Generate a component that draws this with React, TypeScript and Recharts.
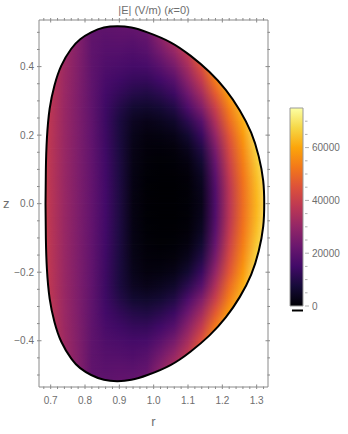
import React from 'react';
import { ComposedChart, Area, Line, XAxis, YAxis, ReferenceArea, ReferenceLine } from 'recharts';

// grid of |E| samples (rows: z, columns: r)
const R_COLS = [0.66, 0.7, 0.74, 0.78, 0.82, 0.86, 0.9, 0.94, 0.98, 1.02, 1.06, 1.1, 1.14, 1.18, 1.22, 1.26, 1.3, 1.34];
const Z_ROWS = [0.52, 0.48, 0.44, 0.4, 0.36, 0.32, 0.28, 0.24, 0.2, 0.16, 0.12, 0.08, 0.04, 0,
  -0.04, -0.08, -0.12, -0.16, -0.2, -0.24, -0.28, -0.32, -0.36, -0.4, -0.44, -0.48, -0.52];
const E_GRID = [
  [48000, 39000, 33000, 27600, 20800, 20500, 21000, 21500, 23500, 32000, 40000, 48000, 61000, 74000, 84000, 87000, 99000, 110000],
  [47700, 38700, 32500, 27200, 20600, 19500, 19800, 19500, 21000, 28000, 35000, 43000, 56000, 69000, 79000, 83000, 95000, 106000],
  [47300, 38300, 32100, 26800, 20500, 18500, 18200, 17500, 18800, 24000, 30000, 38500, 51000, 64000, 74000, 79000, 91000, 102000],
  [47000, 38000, 31800, 26500, 20500, 17500, 16500, 15500, 16000, 19500, 24500, 33500, 45000, 59000, 69000, 75000, 87000, 98000],
  [46700, 37700, 31500, 26300, 20500, 16400, 14500, 13000, 12800, 15000, 19000, 28500, 39000, 53000, 64000, 71000, 83000, 94000],
  [46500, 37500, 31300, 26100, 20500, 15200, 12500, 10000, 9200, 11000, 14000, 23000, 33000, 47000, 59000, 67500, 79500, 90000],
  [46300, 37300, 31100, 26000, 20500, 14300, 10000, 6500, 5800, 7000, 9500, 17000, 26500, 40500, 54000, 64000, 76000, 86000],
  [46200, 37200, 31000, 26000, 20600, 14000, 8600, 4300, 3000, 3800, 5500, 11000, 19000, 35000, 50000, 61000, 73000, 82500],
  [46100, 37100, 31000, 26000, 20700, 14100, 8500, 3200, 1600, 1800, 2800, 6500, 13500, 30000, 46000, 58000, 70000, 79500],
  [46000, 37000, 31000, 26000, 20800, 14400, 8600, 2700, 1000, 800, 1200, 3500, 9500, 25500, 43000, 55500, 67500, 77000],
  [46000, 37000, 31000, 26000, 20900, 14700, 8800, 2400, 650, 350, 500, 1700, 6500, 22000, 40500, 53500, 65500, 75000],
  [46000, 37000, 31000, 26000, 21000, 14900, 8900, 2200, 450, 150, 200, 900, 4500, 19500, 38500, 52000, 64000, 73500],
  [46000, 37000, 31000, 26000, 21000, 15000, 9000, 2100, 350, 50, 50, 600, 3500, 18000, 37000, 51000, 63000, 72500],
  [46000, 37000, 31000, 26000, 21000, 15000, 9000, 2000, 300, 0, 0, 500, 3000, 17500, 36500, 50500, 62500, 72000],
  [46000, 37000, 31000, 26000, 21000, 15000, 9000, 2100, 350, 50, 50, 600, 3500, 18000, 37000, 51000, 63000, 72500],
  [46000, 37000, 31000, 26000, 21000, 14900, 8900, 2200, 450, 150, 200, 900, 4500, 19500, 38500, 52000, 64000, 73500],
  [46000, 37000, 31000, 26000, 20900, 14700, 8800, 2400, 650, 350, 500, 1700, 6500, 22000, 40500, 53500, 65500, 75000],
  [46000, 37000, 31000, 26000, 20800, 14400, 8600, 2700, 1000, 800, 1200, 3500, 9500, 25500, 43000, 55500, 67500, 77000],
  [46100, 37100, 31000, 26000, 20700, 14100, 8500, 3200, 1600, 1800, 2800, 6500, 13500, 30000, 46000, 58000, 70000, 79500],
  [46200, 37200, 31000, 26000, 20600, 14000, 8600, 4300, 3000, 3800, 5500, 11000, 19000, 35000, 50000, 61000, 73000, 82500],
  [46300, 37300, 31100, 26000, 20500, 14300, 10000, 6500, 5800, 7000, 9500, 17000, 26500, 40500, 54000, 64000, 76000, 86000],
  [46500, 37500, 31300, 26100, 20500, 15200, 12500, 10000, 9200, 11000, 14000, 23000, 33000, 47000, 59000, 67500, 79500, 90000],
  [46700, 37700, 31500, 26300, 20500, 16400, 14500, 13000, 12800, 15000, 19000, 28500, 39000, 53000, 64000, 71000, 83000, 94000],
  [47000, 38000, 31800, 26500, 20500, 17500, 16500, 15500, 16000, 19500, 24500, 33500, 45000, 59000, 69000, 75000, 87000, 98000],
  [47300, 38300, 32100, 26800, 20500, 18500, 18200, 17500, 18800, 24000, 30000, 38500, 51000, 64000, 74000, 79000, 91000, 102000],
  [47700, 38700, 32500, 27200, 20600, 19500, 19800, 19500, 21000, 28000, 35000, 43000, 56000, 69000, 79000, 83000, 95000, 106000],
  [48000, 39000, 33000, 27600, 20800, 20500, 21000, 21500, 23500, 32000, 40000, 48000, 61000, 74000, 84000, 87000, 99000, 110000],
];

// plasma boundary, upper half from the outer tip to the inner tip
const EDGE_R_UPPER = [1.322, 1.319, 1.306, 1.284, 1.251, 1.21, 1.162, 1.107, 1.049, 0.982, 0.935, 0.895, 0.855, 0.818, 0.786, 0.76, 0.731, 0.711, 0.697, 0.689, 0.686, 0.685];
const EDGE_Z_UPPER = [0, 0.067, 0.138, 0.207, 0.272, 0.332, 0.385, 0.432, 0.471, 0.5, 0.514, 0.518, 0.514, 0.5, 0.48, 0.452, 0.403, 0.345, 0.277, 0.19, 0.1, 0];
// lower half from the inner tip back to the outer tip
const EDGE_R_LOWER = [0.686, 0.689, 0.697, 0.711, 0.731, 0.76, 0.786, 0.818, 0.855, 0.895, 0.935, 0.982, 1.049, 1.107, 1.162, 1.21, 1.251, 1.284, 1.306, 1.319, 1.322];
const EDGE_Z_LOWER = [-0.1, -0.19, -0.277, -0.345, -0.403, -0.452, -0.48, -0.5, -0.514, -0.518, -0.514, -0.5, -0.471, -0.432, -0.385, -0.332, -0.272, -0.207, -0.138, -0.067, 0];

// axis ticks
const R_TICKS = [0.68, 0.7, 0.72, 0.74, 0.76, 0.78, 0.8, 0.82, 0.84, 0.86, 0.88, 0.9, 0.92, 0.94, 0.96, 0.98, 1.0,
  1.02, 1.04, 1.06, 1.08, 1.1, 1.12, 1.14, 1.16, 1.18, 1.2, 1.22, 1.24, 1.26, 1.28, 1.3, 1.32];
const R_MAJOR = [0.7, 0.8, 0.9, 1.0, 1.1, 1.2, 1.3];
const Z_TICKS = [-0.5, -0.45, -0.4, -0.35, -0.3, -0.25, -0.2, -0.15, -0.1, -0.05, 0, 0.05, 0.1, 0.15, 0.2, 0.25, 0.3, 0.35, 0.4, 0.45, 0.5];
const Z_MAJOR = [-0.4, -0.2, 0, 0.2, 0.4];
const CB_TICKS = [0, 5000, 10000, 15000, 20000, 25000, 30000, 35000, 40000, 45000, 50000, 55000, 60000, 65000, 70000];
const CB_MAJOR = [0, 20000, 40000, 60000];

// colour scale
const E_MAX = 75000;
const CMAP_POS = [0, 0.1, 0.2, 0.3, 0.4, 0.5, 0.6, 0.7, 0.8, 0.9, 1];
const CMAP_COLORS = ['#000004', '#160b39', '#420a68', '#6a176e', '#932667', '#bc3754', '#dd513a', '#f37819', '#fca50a', '#f6d746', '#fcffa4'];

const R_DOMAIN: [number, number] = [0.666, 1.333];
const Z_DOMAIN: [number, number] = [-0.535, 0.536];
const ROW_HALF = 0.04;
const FRAME = '#8a8a8a';
const TXT = '#6e6e6e';
const FONT = '"Liberation Sans", Arial, sans-serif';

const hex = (c: string) => [1, 3, 5].map(i => parseInt(c.slice(i, i + 2), 16));

function heatColor(v: number) {
  const t = Math.max(0, Math.min(1, v / E_MAX));
  let k = 0;
  while (k < CMAP_POS.length - 2 && t > CMAP_POS[k + 1]) k++;
  const f = (t - CMAP_POS[k]) / (CMAP_POS[k + 1] - CMAP_POS[k]);
  const a = hex(CMAP_COLORS[k]);
  const b = hex(CMAP_COLORS[k + 1]);
  const m = a.map((x, i) => Math.round(x + (b[i] - x) * f));
  return `rgb(${m[0]},${m[1]},${m[2]})`;
}

const isIn = (v: number, list: number[]) => list.some(m => Math.abs(m - v) < 1e-6);
const fmtZ = (v: number) => (v < 0 ? '\u2212' : '') + Math.abs(v).toFixed(1);

const BottomTick = ({ x, y, payload }: any) => {
  const major = isIn(payload.value, R_MAJOR);
  return (
    <g>
      <line x1={x} x2={x} y1={y} y2={y - (major ? 4.5 : 2.5)} stroke={FRAME} />
      {major && (
        <text x={x} y={y + 15} textAnchor="middle" fill={TXT} fontSize={10} fontFamily={FONT}>
          {payload.value.toFixed(1)}
        </text>
      )}
    </g>
  );
};

const TopTick = ({ x, y, payload }: any) => {
  const major = isIn(payload.value, R_MAJOR);
  return <line x1={x} x2={x} y1={y} y2={y + (major ? 4.5 : 2.5)} stroke={FRAME} />;
};

const LeftTick = ({ x, y, payload }: any) => {
  const major = isIn(payload.value, Z_MAJOR);
  return (
    <g>
      <line x1={x} x2={x + (major ? 4.5 : 2.5)} y1={y} y2={y} stroke={FRAME} />
      {major && (
        <text x={x - 3} y={y + 3.5} textAnchor="end" fill={TXT} fontSize={10} fontFamily={FONT}>
          {fmtZ(payload.value)}
        </text>
      )}
    </g>
  );
};

const RightTick = ({ x, y, payload }: any) => {
  const major = isIn(payload.value, Z_MAJOR);
  return <line x1={x} x2={x - (major ? 4.5 : 2.5)} y1={y} y2={y} stroke={FRAME} />;
};

const BarTick = ({ x, y, payload }: any) => {
  const major = isIn(payload.value, CB_MAJOR);
  return (
    <g>
      <line x1={x} x2={x + (major ? 4 : 2.5)} y1={y} y2={y} stroke="#b0b0b0" />
      {major && (
        <text x={x + 7} y={y + 3.5} textAnchor="start" fill={TXT} fontSize={10} fontFamily={FONT}>
          {payload.value}
        </text>
      )}
    </g>
  );
};

export default function App() {
  const last = R_COLS.length - 1;
  const span = R_COLS[last] - R_COLS[0];

  // each row band reaches to its neighbours and fades in from the top, so rows blend smoothly
  const rows = Z_ROWS.map((z, i) => ({
    id: `heat${i}`,
    data: [
      { r: R_COLS[0], band: [z - ROW_HALF, z + ROW_HALF] },
      { r: R_COLS[last], band: [z - ROW_HALF, z + ROW_HALF] },
    ],
    stops: R_COLS.map((r, j) => ({ offset: (r - R_COLS[0]) / span, color: heatColor(E_GRID[i][j]) })),
  }));

  const upper = EDGE_R_UPPER.map((r, i) => ({ r, z: EDGE_Z_UPPER[i] }));
  const lower = EDGE_R_LOWER.map((r, i) => ({ r, z: EDGE_Z_LOWER[i] }));
  // outline starts at the flat inner tip so the spline closes without a visible kink
  const outline = [upper[upper.length - 1], ...lower, ...upper.slice(1)];
  const maskTop = [{ r: 0.66, z: -0.02 }, ...[...upper].reverse(), { r: 1.34, z: -0.02 }];
  const maskBottom = [{ r: 0.66, z: 0.02 }, { r: 0.685, z: 0 }, ...lower, { r: 1.34, z: 0.02 }];

  const barData = [
    { x: 0, v: [0, E_MAX] },
    { x: 1, v: [0, E_MAX] },
  ];

  return (
    <div style={{ position: 'absolute', left: 0, top: 0, width: 348, height: 434, background: '#fff', fontFamily: FONT }}>
      <div style={{ position: 'absolute', left: 39, top: 3, width: 230, textAlign: 'center', fontSize: 11, color: TXT, lineHeight: '14px' }}>
        |E| (V/m) (<i>κ</i>=0)
      </div>

      <ComposedChart width={348} height={434} margin={{ top: 19, right: 79, bottom: 0, left: 0 }} style={{ position: 'absolute', left: 0, top: 0 }}>
        <defs>
          <linearGradient id="rowFade" x1="0" y1="0" x2="0" y2="1">
            <stop offset="0" stopColor="#fff" stopOpacity={0} />
            <stop offset="0.5" stopColor="#fff" stopOpacity={1} />
            <stop offset="1" stopColor="#fff" stopOpacity={1} />
          </linearGradient>
          <mask id="rowMask" maskContentUnits="objectBoundingBox" style={{ maskType: 'alpha' }}>
            <rect x="0" y="0" width="1" height="1" fill="url(#rowFade)" />
          </mask>
          {rows.map(row => (
            <linearGradient key={row.id} id={row.id} x1="0" y1="0" x2="1" y2="0">
              {row.stops.map((s, j) => (
                <stop key={j} offset={s.offset} stopColor={s.color} />
              ))}
            </linearGradient>
          ))}
        </defs>

        <XAxis
          dataKey="r"
          type="number"
          domain={R_DOMAIN}
          allowDataOverflow
          ticks={R_TICKS}
          interval={0}
          tick={<BottomTick />}
          tickLine={false}
          tickSize={0}
          axisLine={{ stroke: FRAME }}
          height={47}
          label={{ value: 'r', position: 'insideBottom', offset: 8, fill: TXT, fontSize: 13, fontFamily: FONT }}
        />
        <XAxis
          xAxisId="top"
          orientation="top"
          dataKey="r"
          type="number"
          domain={R_DOMAIN}
          allowDataOverflow
          ticks={R_TICKS}
          interval={0}
          tick={<TopTick />}
          tickLine={false}
          tickSize={0}
          axisLine={{ stroke: FRAME }}
          height={1}
        />
        <YAxis
          type="number"
          domain={Z_DOMAIN}
          allowDataOverflow
          ticks={Z_TICKS}
          interval={0}
          tick={<LeftTick />}
          tickLine={false}
          tickSize={0}
          axisLine={{ stroke: FRAME }}
          width={39}
          label={{ value: 'z', position: 'insideLeft', offset: 3, fill: TXT, fontSize: 13, fontFamily: FONT }}
        />
        <YAxis
          yAxisId="right"
          orientation="right"
          type="number"
          domain={Z_DOMAIN}
          allowDataOverflow
          ticks={Z_TICKS}
          interval={0}
          tick={<RightTick />}
          tickLine={false}
          tickSize={0}
          axisLine={{ stroke: FRAME }}
          width={1}
        />

        {rows.map(row => (
          <Area
            key={row.id}
            data={row.data}
            dataKey="band"
            type="linear"
            stroke="none"
            fill={`url(#${row.id})`}
            fillOpacity={1}
            mask="url(#rowMask)"
            isAnimationActive={false}
          />
        ))}

        <Area data={maskTop} dataKey="z" type="linear" baseValue={Z_DOMAIN[1]} stroke="none" fill="#fff" fillOpacity={1} isAnimationActive={false} />
        <Area data={maskBottom} dataKey="z" type="linear" baseValue={Z_DOMAIN[0]} stroke="none" fill="#fff" fillOpacity={1} isAnimationActive={false} />

        <Line data={outline} dataKey="z" type="natural" stroke="#000" strokeWidth={2} dot={false} isAnimationActive={false} />
        <Line xAxisId="top" yAxisId="right" data={outline} dataKey="z" type="linear" stroke="none" dot={false} isAnimationActive={false} />
      </ComposedChart>

      <ComposedChart width={63} height={434} margin={{ top: 108, right: 0, bottom: 128, left: 5 }} style={{ position: 'absolute', left: 285, top: 0 }}>
        <defs>
          <linearGradient id="cbar" x1="0" y1="1" x2="0" y2="0">
            {CMAP_POS.map((p, i) => (
              <stop key={i} offset={p} stopColor={CMAP_COLORS[i]} />
            ))}
          </linearGradient>
        </defs>
        <XAxis dataKey="x" type="number" domain={[0, 1]} hide />
        <YAxis
          orientation="right"
          type="number"
          domain={[0, E_MAX]}
          ticks={CB_TICKS}
          interval={0}
          tick={<BarTick />}
          tickLine={false}
          tickSize={0}
          axisLine={false}
          width={45}
        />
        <Area data={barData} dataKey="v" type="linear" stroke="none" fill="url(#cbar)" fillOpacity={1} isAnimationActive={false} />
        <ReferenceArea x1={0} x2={1} y1={0} y2={E_MAX} fill="none" stroke="#9a9a9a" strokeWidth={1} />
        <ReferenceLine
          segment={[{ x: 0.15, y: -1700 }, { x: 1, y: -1700 }]}
          stroke="#000"
          strokeWidth={2}
          ifOverflow="visible"
        />
      </ComposedChart>
    </div>
  );
}
